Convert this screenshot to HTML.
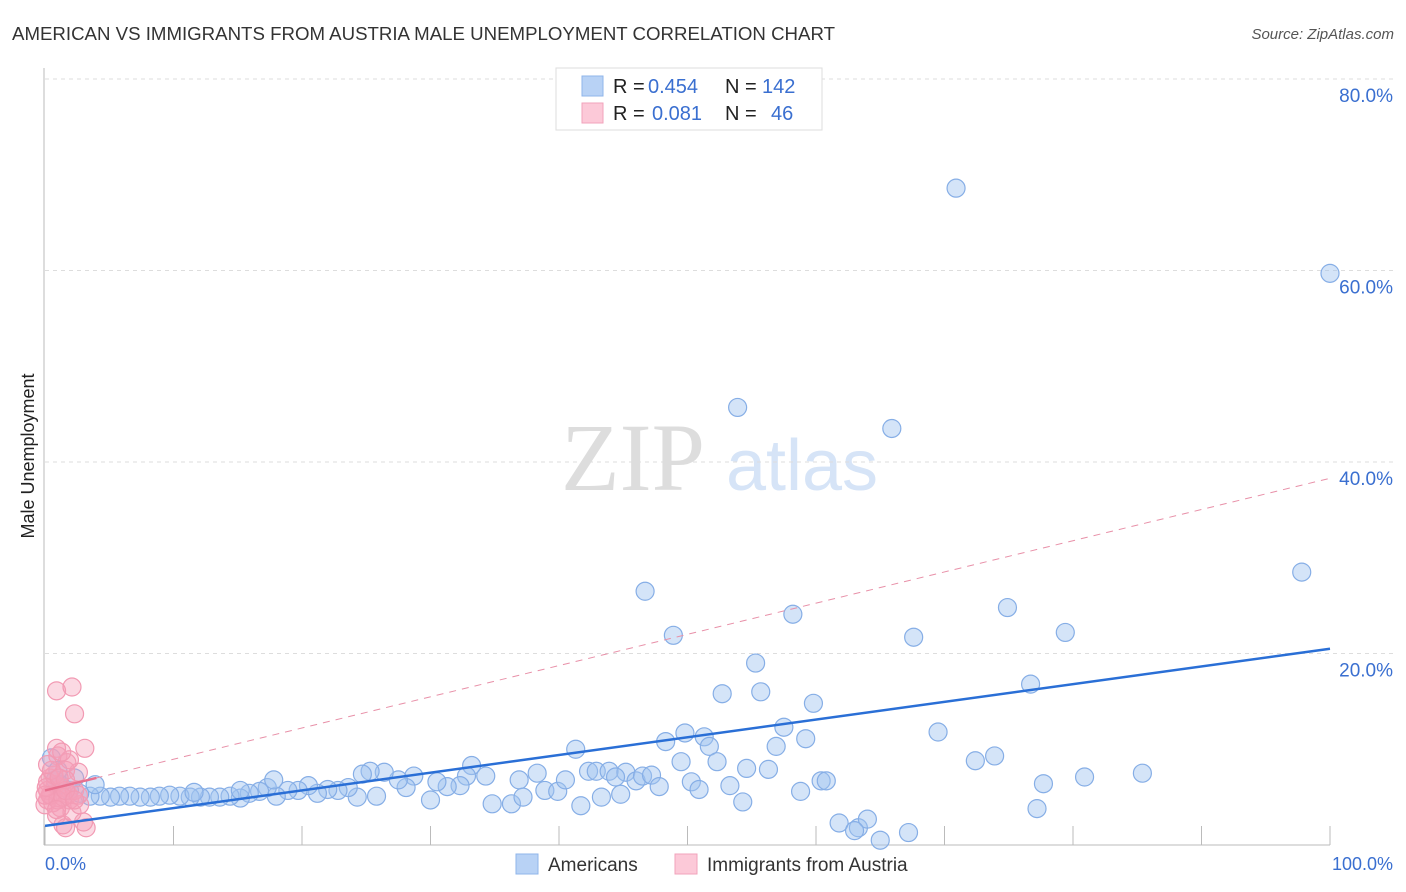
<!DOCTYPE html>
<html><head><meta charset="utf-8"><style>
body{margin:0;background:#fff;font-family:"Liberation Sans",sans-serif;}
svg{display:block}
</style></head><body>
<svg id="c" width="1406" height="892" xmlns="http://www.w3.org/2000/svg">
<text x="12" y="40" font-size="18" fill="#333" textLength="823" lengthAdjust="spacingAndGlyphs">AMERICAN VS IMMIGRANTS FROM AUSTRIA MALE UNEMPLOYMENT CORRELATION CHART</text>
<text x="1394" y="39" font-size="15" fill="#555" font-style="italic" text-anchor="end">Source: ZipAtlas.com</text>
<text x="633" y="490" font-size="96" fill="#ddd" font-family="Liberation Serif,serif" text-anchor="middle">ZIP</text>
<text x="802" y="490" font-size="72" fill="#d6e4f7" text-anchor="middle">atlas</text>
<text transform="translate(34,456) rotate(-90)" font-size="18" fill="#222" text-anchor="middle">Male Unemployment</text>
<g id="grid"></g><g id="pts"></g><g id="lines"></g>
<g>
<rect x="556" y="68" width="266" height="62" fill="#fff" stroke="#ddd"/>
<rect x="582" y="76" width="21" height="20" fill="#b8d2f5" stroke="#8fb5ea"/>
<rect x="582" y="103" width="21" height="20" fill="#fcc9d8" stroke="#f2a3bb"/>
<text y="93" font-size="20" fill="#222"><tspan x="613">R =</tspan><tspan x="648" fill="#3a6fd0">0.454</tspan><tspan x="725">N =</tspan><tspan x="762" fill="#3a6fd0">142</tspan></text>
<text y="120" font-size="20" fill="#222"><tspan x="613">R =</tspan><tspan x="652" fill="#3a6fd0">0.081</tspan><tspan x="725">N =</tspan><tspan x="771" fill="#3a6fd0">46</tspan></text>
</g>
<g>
<rect x="516" y="854" width="22" height="20" fill="#b8d2f5" stroke="#8fb5ea"/>
<text x="548" y="871" font-size="19" fill="#333">Americans</text>
<rect x="675" y="854" width="22" height="20" fill="#fcc9d8" stroke="#f2a3bb"/>
<text x="707" y="871" font-size="19" fill="#333">Immigrants from Austria</text>
</g>
<text x="45" y="870" font-size="18" fill="#3a6fd0">0.0%</text>
<text x="1393" y="870" font-size="18" fill="#3a6fd0" text-anchor="end">100.0%</text>
</svg>
<script>
const yTicks=[20,40,60,80];
const yTickLabels=["20.0%","40.0%","60.0%","80.0%"];
const blue=[[70.9,68.6],[97.8,28.5],[100,59.7],[53.9,45.7],[65.9,43.5],[46.7,26.5],[48.9,21.9],[58.2,24.1],[67.6,21.7],[74.9,24.8],[79.4,22.2],[55.3,19.0],[52.7,15.8],[55.7,16.0],[76.7,16.8],[59.8,14.8],[57.5,12.3],[69.5,11.8],[49.8,11.7],[51.3,11.3],[48.3,10.8],[51.7,10.3],[56.9,10.3],[59.2,11.1],[41.3,10.0],[73.9,9.3],[72.4,8.8],[49.5,8.7],[52.3,8.7],[54.6,8.0],[56.3,7.9],[85.4,7.5],[80.9,7.1],[77.7,6.4],[60.4,6.7],[60.8,6.7],[50.3,6.6],[50.9,5.8],[53.3,6.2],[58.8,5.6],[54.3,4.5],[77.2,3.8],[61.8,2.3],[63.3,1.8],[64.0,2.7],[63.0,1.5],[65.0,0.5],[67.2,1.3],
[33.2,8.3],[34.3,7.2],[34.8,4.3],[36.3,4.3],[36.9,6.8],[38.3,7.5],[38.9,5.7],[39.9,5.6],[40.5,6.8],[41.7,4.1],[42.3,7.7],[42.9,7.7],[43.3,5.0],[43.9,7.7],[44.8,5.3],[45.2,7.6],[46.0,6.7],[46.5,7.2],[47.2,7.3],[47.8,6.1],[44.4,7.1],[37.2,5.0],[30.0,4.7],[32.8,7.2],[32.3,6.2],[31.3,6.1],[30.5,6.6],[28.7,7.2],[28.1,6.0],[27.5,6.8],[26.4,7.6],[25.3,7.7],[24.7,7.4],[25.8,5.1],[24.3,5.0],[23.6,6.0],[22.8,5.7],[22.0,5.8],[21.2,5.4],[20.5,6.2],[19.7,5.7],[18.9,5.7],[18.0,5.1],[17.3,6.0],[16.7,5.6],[15.9,5.4],[15.2,4.9],[14.4,5.1],[13.6,5.0],[12.8,5.0],[12.1,5.0],[11.3,5.0],[10.5,5.1],[9.7,5.2],[8.9,5.1],[8.2,5.0],[7.4,5.0],[6.6,5.1],[5.8,5.1],[5.1,5.0],[4.3,5.1],[3.5,5.1],[2.7,5.4],[1.9,5.7],[1.2,6.3],[0.8,6.8],[0.5,9.1],[1.0,7.8],[2.3,7.0],[3.9,6.3],[17.8,6.8],[11.6,5.5],[15.2,5.7]];
const pink=[[0.9,16.1],[2.1,16.5],[2.3,13.7],[3.1,10.1],[0.9,10.1],[1.0,9.3],[1.7,8.6],[1.6,7.8],[2.6,7.6],[0.4,7.0],[0.8,6.3],[0.2,5.7],[0.5,5.2],[1.2,4.9],[1.9,4.7],[0.2,4.7],[0.6,4.4],[1.3,6.0],[1.8,5.3],[0,4.2],[1.2,3.9],[0.9,3.1],[1.4,2.1],[1.6,1.8],[3.2,1.8],[3.0,2.4],[2.1,3.4],[2.7,4.2],[0.2,6.6],[0.7,7.3],[2.3,5.7],[1.6,6.8],[0.4,5.2],[1.0,4.7],[0.1,6.0],[1.4,5.0],[0.5,7.8],[1.9,8.9],[1.3,9.7],[2.6,5.2],[0,5.2],[0.9,3.7],[1.6,5.7],[2.3,4.7],[0.2,8.4],[1.1,7.0]];
const blueTrend=[2.0,20.5];
const pinkTrend=[5.7,38.3];
const xTicks=[0,10,20,30,40,50,60,70,80,90,100];
const X=v=>45+v*12.85, Y=v=>845-v*9.575;
const NS="http://www.w3.org/2000/svg";
function mk(t,a,p){const e=document.createElementNS(NS,t);for(const k in a)e.setAttribute(k,a[k]);p.appendChild(e);return e;}
const g=document.getElementById('grid');
yTicks.forEach((t,i)=>{
 const l=mk('line',{x1:45,x2:1394,y1:Y(t),y2:Y(t),stroke:'#ddd','stroke-dasharray':'4,4'},g);
 
 
 const tx=mk('text',{x:1393,y:Y(t)+23,'font-size':19,fill:'#3a6fd0','text-anchor':'end'},g);
 tx.textContent=yTickLabels[i];
 
 
});
const ax=mk('line',{x1:44,x2:44,y1:68,y2:845,stroke:'#bbb'},g);


const bx=mk('line',{x1:44,x2:1330,y1:845,y2:845,stroke:'#bbb'},g);


xTicks.forEach(t=>{const l=mk('line',{x1:X(t),x2:X(t),y1:826,y2:845,stroke:'#bbb'},g);
 
 });
const p=document.getElementById('pts');
blue.forEach(d=>{const c=mk('circle',{cx:X(d[0]),cy:Y(d[1]),r:9,fill:'rgba(160,195,240,0.45)',stroke:'#86aee6','stroke-width':1.2},p);
 
 });
pink.forEach(d=>{const c=mk('circle',{cx:X(d[0]),cy:Y(d[1]),r:9,fill:'rgba(245,160,185,0.4)',stroke:'#f29ab3','stroke-width':1.2},p);
 
 });
const L=document.getElementById('lines');
const pl=mk('line',{x1:X(0),y1:Y(pinkTrend[0]),x2:X(100),y2:Y(pinkTrend[1]),stroke:'#e890a8','stroke-width':1,'stroke-dasharray':'7,6'},L);


const ps=mk('line',{x1:X(0),y1:Y(pinkTrend[0]),x2:X(4),y2:Y(pinkTrend[0]+(pinkTrend[1]-pinkTrend[0])*0.04),stroke:'#e8708f','stroke-width':2.5},L);


const bl=mk('line',{x1:X(0),y1:Y(blueTrend[0]),x2:X(100),y2:Y(blueTrend[1]),stroke:'#2a6fd6','stroke-width':2.5},L);


</script>
</body></html>
